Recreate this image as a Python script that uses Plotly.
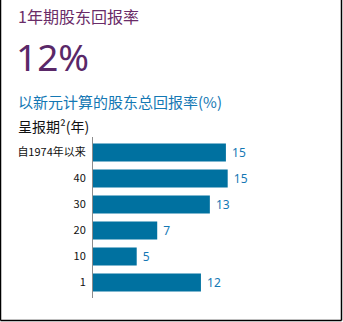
import plotly.graph_objects as go

categories = ["自1974年以来", "40", "30", "20", "10", "1"]
values = [14.9, 15.1, 13.1, 7.2, 4.9, 12.1]
value_labels = ["15", "15", "13", "7", "5", "12"]

W, H = 343, 322
L, R, T, B = 93, 27, 137, 24
pw, ph = W - L - R, H - T - B

def px(x):
    return (x - L) / pw

def py(y):
    return (H - B - y) / ph

fig = go.Figure(go.Bar(
    y=categories, x=values, orientation="h",
    marker=dict(color="#0071a0", line=dict(width=0)),
    text=value_labels, textposition="outside", texttemplate=" %{text}",
    textfont=dict(color="#1478b4", size=12, family="Noto Sans, Open Sans"),
    cliponaxis=False, width=0.69,
))

fig.update_layout(
    width=W, height=H,
    margin=dict(l=L, r=R, t=T, b=B, pad=0),
    paper_bgcolor="white", plot_bgcolor="white",
    showlegend=False,
    xaxis=dict(range=[0, 25], visible=False, fixedrange=True),
    yaxis=dict(autorange=False, range=[5.6, -0.6], showline=True, linecolor="#8c8c8c", linewidth=1,
               ticks="", ticklabelstandoff=4, showgrid=False,
               tickfont=dict(size=11, color="#111111", family="Noto Sans CJK SC, Noto Sans")),
    font=dict(family="Noto Sans CJK SC, Noto Sans"),
)

anns = [
    ("1年期股东回报率", 16, 16, 16, "#6a2c68", "Noto Sans CJK SC"),
    ("12%", 14, 56, 37, "#5a2868", "Noto Sans, Open Sans"),
    ("以新元计算的股东总回报率(%)", 16, 101, 15, "#1478b4", "Noto Sans CJK SC"),
    ("呈报期²(年)", 16, 126, 14, "#111111", "Noto Sans CJK SC"),
]
for text, x, y, size, color, fam in anns:
    fig.add_annotation(text=text, x=px(x), y=py(y), xref="paper", yref="paper",
                       xanchor="left", yanchor="middle", showarrow=False,
                       font=dict(size=size, color=color, family=fam))

for x0, y0, x1, y1 in [(0.5, 0, 0.5, 320.5), (0.5, 320.5, 341.5, 320.5), (341.5, 0, 341.5, 320.5)]:
    fig.add_shape(type="line", xref="paper", yref="paper",
                  x0=px(x0), y0=py(y0), x1=px(x1), y1=py(y1),
                  line=dict(color="black", width=1.5))

fig.write_html("out.html")
